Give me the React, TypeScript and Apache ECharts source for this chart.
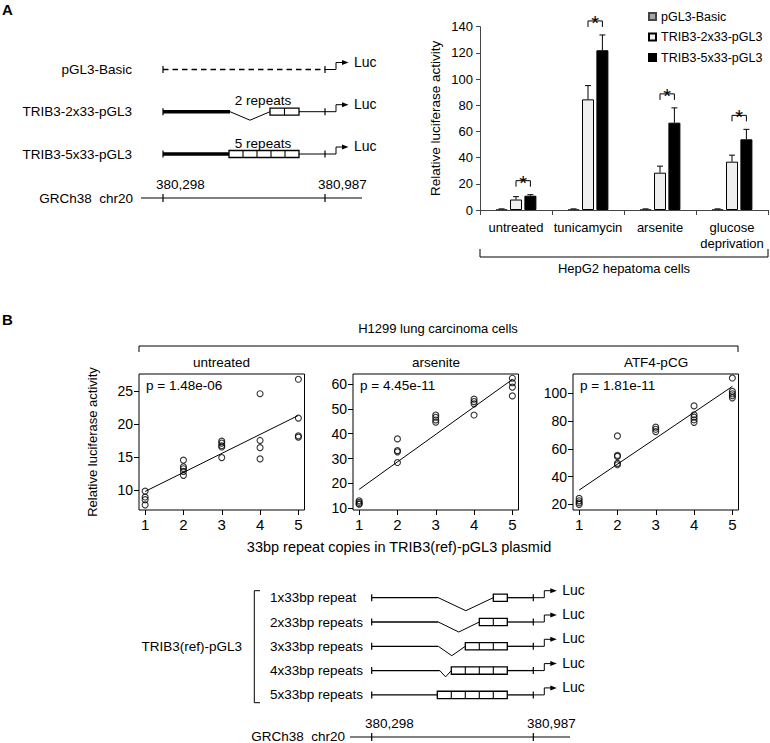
import React, { useEffect, useRef } from "react";
import * as echarts from "echarts";

// ---------- Panel A bar chart data ----------
const barCategories = ["untreated", "tunicamycin", "arsenite", "glucose\ndeprivation"];
const barSeriesNames = ["pGL3-Basic", "TRIB3-2x33-pGL3", "TRIB3-5x33-pGL3"];
const basicValues = [0.7, 0.7, 0.7, 0.7];
const basicErrors = [0.15, 0.15, 0.15, 0.15];
const rep2Values = [8.0, 84.5, 28.5, 36.9];
const rep2Errors = [2.2, 10.5, 5.0, 5.0];
const rep5Values = [10.9, 122, 66.7, 54];
const rep5Errors = [0.8, 11.7, 11.3, 7.6];
const barYMax = 140;
const barYInterval = 20;

// ---------- Panel B scatter data ----------
const copyTicks = [1, 2, 3, 4, 5];
const untreatedPoints = [
  [1, 9.8], [1, 8.9], [1, 8.5], [1, 7.7],
  [2, 14.5], [2, 13.5], [2, 13.2], [2, 12.8], [2, 12.2],
  [3, 17.4], [3, 17.1], [3, 16.7], [3, 16.5], [3, 14.9],
  [4, 24.6], [4, 17.5], [4, 16.4], [4, 14.7],
  [5, 26.8], [5, 20.9], [5, 18.2], [5, 18.0],
];
const arsenitePoints = [
  [1, 13.0], [1, 12.4], [1, 11.8], [1, 11.6],
  [2, 37.9], [2, 33.2], [2, 32.7], [2, 28.4],
  [3, 47.5], [3, 46.6], [3, 45.5], [3, 44.6],
  [4, 53.9], [4, 52.9], [4, 52.0], [4, 47.5],
  [5, 62.3], [5, 60.5], [5, 58.7], [5, 55.2],
];
const atf4Points = [
  [1, 24.3], [1, 22.6], [1, 21.2], [1, 20.0],
  [2, 69.2], [2, 55.3], [2, 54.5], [2, 49.5], [2, 48.5],
  [3, 75.5], [3, 74.0], [3, 72.3],
  [4, 90.8], [4, 84.4], [4, 82.7], [4, 80.8], [4, 79.0],
  [5, 110.8], [5, 101.2], [5, 99.5], [5, 98.1], [5, 96.6],
];
const untreatedFit = [[1, 9.75], [5, 21.3]];
const arseniteFit = [[1, 17.6], [5, 61.8]];
const atf4Fit = [[1, 30.3], [5, 104.8]];
const scatterTitles = ["untreated", "arsenite", "ATF4-pCG"];
const pValues = ["p = 1.48e-06", "p = 4.45e-11", "p = 1.81e-11"];
const untreatedYTicks = [10, 15, 20, 25];
const arseniteYTicks = [10, 20, 30, 40, 50, 60];
const atf4YTicks = [20, 40, 60, 80, 100];
const untreatedRange = [6.93, 27.6];
const arseniteRange = [9.3, 64.0];
const atf4Range = [16.0, 113.7];

// ---------- Diagram texts ----------
const panelAConstructs = ["pGL3-Basic", "TRIB3-2x33-pGL3", "TRIB3-5x33-pGL3"];
const panelBConstructs = ["1x33bp repeat", "2x33bp repeats", "3x33bp repeats", "4x33bp repeats", "5x33bp repeats"];
const panelBRepeatCounts = [1, 2, 3, 4, 5];
const coordLabels = ["380,298", "380,987"];

const FONT = "Liberation Sans, Arial, Helvetica, sans-serif";

function txt(text: string, x: number, y: number, o: any = {}) {
  return {
    type: "text", x, y, silent: true, z: 10,
    style: {
      text, fill: "#000", fontFamily: FONT, fontSize: o.size || 13,
      fontWeight: o.weight || "normal", align: o.align || "left",
      verticalAlign: o.va || "middle",
    },
  };
}
function ln(x1: number, y1: number, x2: number, y2: number, w = 1, dash?: number[], color = "#000") {
  return {
    type: "line", silent: true, z: 10,
    shape: { x1, y1, x2, y2 },
    style: { stroke: color, lineWidth: w, lineDash: dash || null },
  };
}
function pl(points: number[][], w = 1) {
  return { type: "polyline", silent: true, z: 10, shape: { points }, style: { stroke: "#000", lineWidth: w, fill: null } };
}
function repeatBox(x: number, y: number, n: number, unit: number, h = 7) {
  const els: any[] = [
    { type: "rect", silent: true, z: 11, shape: { x, y: y - h / 2, width: n * unit, height: h }, style: { fill: "#fff", stroke: "#000", lineWidth: 1.3 } },
  ];
  for (let i = 1; i < n; i++) els.push({ ...ln(x + i * unit, y - h / 2, x + i * unit, y + h / 2, 1.1), z: 12 });
  return els;
}
function tick(x: number, y: number, h = 7) {
  return ln(x, y - h / 2, x, y + h / 2, 1.2);
}
function promoter(x: number, y: number) {
  return [
    ln(x, y, x + 11, y, 1),
    ln(x + 11, y, x + 11, y - 7, 1),
    ln(x + 11, y - 7, x + 18, y - 7, 1),
    { type: "polygon", silent: true, z: 10, shape: { points: [[x + 17, y - 9.5], [x + 23.5, y - 7], [x + 17, y - 4.5]] }, style: { fill: "#000" } },
    txt("Luc", x + 29, y - 8, { size: 14 }),
  ];
}

function buildGraphics() {
  const g: any[] = [];
  // Panel labels
  g.push(txt("A", 2, 9, { size: 15, weight: "bold" }));
  g.push(txt("B", 2, 319, { size: 15, weight: "bold" }));

  // ---- Panel A diagram ----
  const x0 = 163, x1 = 325, unitA = 14;
  const yRows = [69.5, 111.7, 154];
  panelAConstructs.forEach((name, i) => g.push(txt(name, 132, yRows[i], { align: "right", size: 13.5 })));
  // pGL3-Basic
  g.push(tick(x0, yRows[0]), ln(x0, yRows[0], x1, yRows[0], 1.6, [5.5, 4]), tick(x1, yRows[0]), ...promoter(x1, yRows[0]));
  // 2 repeats
  const boxEnd = 299;
  g.push(tick(x0, yRows[1]), ln(x0, yRows[1], 230, yRows[1], 3.5));
  g.push(pl([[230, yRows[1]], [250, yRows[1] + 8.5], [270, yRows[1]]], 1));
  g.push(...repeatBox(boxEnd - 2 * 14.5, yRows[1], 2, 14.5));
  g.push(ln(boxEnd, yRows[1], x1, yRows[1], 1), tick(x1, yRows[1]), ...promoter(x1, yRows[1]));
  g.push(txt("2 repeats", 263, 100, { align: "center", size: 13.5 }));
  // 5 repeats
  g.push(tick(x0, yRows[2]), ln(x0, yRows[2], boxEnd - 5 * unitA, yRows[2], 3.5));
  g.push(...repeatBox(boxEnd - 5 * unitA, yRows[2], 5, unitA));
  g.push(ln(boxEnd, yRows[2], x1, yRows[2], 1), tick(x1, yRows[2]), ...promoter(x1, yRows[2]));
  g.push(txt("5 repeats", 263, 143, { align: "center", size: 13.5 }));
  // coordinates
  g.push(txt("GRCh38  chr20", 133, 198, { align: "right", size: 13.5 }));
  g.push(ln(141, 198, 362, 198, 1), tick(x0, 198, 8), tick(x1, 198, 8));
  g.push(txt(coordLabels[0], 156, 184, { size: 13.5 }), txt(coordLabels[1], 318, 184, { size: 13.5 }));

  // ---- Panel A bracket under bar chart ----
  g.push(pl([[480, 249], [480, 257], [768, 257], [768, 249]], 1));
  g.push(txt("HepG2 hepatoma cells", 624, 268, { align: "center" }));

  // ---- Panel B header ----
  g.push(txt("H1299 lung carcinoma cells", 438, 328, { align: "center" }));
  g.push(pl([[139, 352], [139, 346], [738, 346], [738, 352]], 1));
  const centers = [221.5, 436, 656];
  const lefts = [146, 360, 580];
  scatterTitles.forEach((t, i) => {
    g.push(txt(t, centers[i], 362, { align: "center", size: 13.5 }));
    g.push(txt(pValues[i], lefts[i], 385, { size: 13.5 }));
  });
  g.push(txt("33bp repeat copies in TRIB3(ref)-pGL3 plasmid", 399, 547, { align: "center", size: 14.5 }));

  // ---- Panel B diagram ----
  const bx0 = 371.7, bx1 = 533.3, bBoxEnd = 507.3, unitB = 14, gapStart = 437.3;
  const dips = [13, 10, 9.4, 6.3, 0];
  panelBConstructs.forEach((name, i) => {
    const y = 597.7 + i * 24.3;
    const n = panelBRepeatCounts[i];
    const bs = bBoxEnd - n * unitB;
    const gs = gapStart + (i === 3 ? 2.5 : 1);
    g.push(txt(name, 270, y, { size: 13.5 }));
    g.push(tick(bx0, y), ln(bx0, y, n < 5 ? gs : bs, y, 1.3));
    if (n < 5) g.push(pl([[gs, y], [(gs + bs) / 2, y + dips[i]], [bs, y]], 1));
    g.push(...repeatBox(bs, y, n, unitB, 7.3));
    g.push(ln(bBoxEnd, y, bx1, y, 1.3), tick(bx1, y), ...promoter(bx1, y));
  });
  g.push(pl([[260, 590.7], [254.3, 590.7], [254.3, 702.7], [260, 702.7]], 1));
  g.push(txt("TRIB3(ref)-pGL3", 242, 646.7, { align: "right", size: 13.5 }));
  g.push(txt("GRCh38  chr20", 345, 736.5, { align: "right", size: 13.5 }));
  g.push(ln(350, 737, 570, 737, 1), tick(bx0, 737, 8), tick(bx1, 737, 8));
  g.push(txt(coordLabels[0], 365, 723.3, { size: 13.5 }), txt(coordLabels[1], 527, 723.3, { size: 13.5 }));
  return g;
}

const BAR_W = 12;
const BAR_STEP = 14.4;

function errorRenderer(offset: number) {
  return (params: any, api: any) => {
    const cat = api.value(0), v = api.value(1), e = api.value(2);
    const base = api.coord([cat, v]);
    const top = api.coord([cat, v + e]);
    const x = base[0] + offset;
    return {
      type: "group",
      children: [
        { type: "line", shape: { x1: x, y1: base[1], x2: x, y2: top[1] }, style: { stroke: "#000", lineWidth: 1 } },
        { type: "line", shape: { x1: x - 3, y1: top[1], x2: x + 3, y2: top[1] }, style: { stroke: "#000", lineWidth: 1 } },
      ],
    };
  };
}

function bracketRenderer(params: any, api: any) {
  const cat = api.value(0), v = api.value(1);
  const top = api.coord([cat, v]);
  const y = top[1] - 14;
  const xa = top[0], xb = top[0] + BAR_STEP;
  return {
    type: "group",
    children: [
      { type: "polyline", shape: { points: [[xa, y + 6], [xa, y], [xb, y], [xb, y + 6]] }, style: { stroke: "#000", lineWidth: 1, fill: null } },
      { type: "text", x: (xa + xb) / 2, y: y + 2, style: { text: "*", fontSize: 20, fontFamily: FONT, fill: "#000", align: "center", verticalAlign: "middle" } },
    ],
  };
}

export default function App() {
  const ref = useRef<HTMLDivElement>(null);
  useEffect(() => {
    if (!ref.current) return;
    const chart = echarts.init(ref.current, undefined, { renderer: "svg" });
    const tickStyle = { color: "#000", fontFamily: FONT };
    const scatterGrid = (left: number) => ({
      left, top: 374, width: 165.5, height: 136, show: true, borderColor: "#000", borderWidth: 1,
      backgroundColor: "transparent", containLabel: false, outerBoundsMode: "none",
    });
    const scatterX = (gi: number) => ({
      type: "value", gridIndex: gi, min: 0.84, max: 5.16,
      axisLine: { show: false }, splitLine: { show: false },
      axisTick: { show: true, length: 5, customValues: copyTicks, lineStyle: { color: "#000" } },
      axisLabel: { customValues: copyTicks, fontSize: 15, margin: 7, ...tickStyle },
    });
    const scatterY = (gi: number, range: number[], ticks: number[], name?: string) => ({
      type: "value", gridIndex: gi, min: range[0], max: range[1],
      axisLine: { show: false }, splitLine: { show: false },
      axisTick: { show: true, length: 5, customValues: ticks, lineStyle: { color: "#000" } },
      axisLabel: { customValues: ticks, fontSize: 14, margin: 6, ...tickStyle },
      name: name || "", nameLocation: "middle", nameGap: 40, nameRotate: 90,
      nameTextStyle: { fontSize: 13, fontFamily: FONT, color: "#000" },
    });
    const pts = [untreatedPoints, arsenitePoints, atf4Points];
    const fits = [untreatedFit, arseniteFit, atf4Fit];
    const scatterSeries: any[] = [];
    pts.forEach((p, i) => {
      scatterSeries.push({
        type: "scatter", xAxisIndex: i + 1, yAxisIndex: i + 1, data: p, symbol: "circle", symbolSize: 6,
        itemStyle: { color: "rgba(0,0,0,0)", borderColor: "#000", borderWidth: 1.1 }, z: 3,
      });
      scatterSeries.push({
        type: "line", xAxisIndex: i + 1, yAxisIndex: i + 1, data: fits[i], symbol: "none",
        lineStyle: { color: "#000", width: 1 }, z: 2,
      });
    });
    const barValues = [basicValues, rep2Values, rep5Values];
    const barErrors = [basicErrors, rep2Errors, rep5Errors];
    const barColors = ["#a6a6a6", "#efefef", "#000"];
    const barBorders = ["#444", "#000", "#000"];
    const barSeries = barSeriesNames.map((name, s) => ({
      name, type: "bar", xAxisIndex: 0, yAxisIndex: 0, data: barValues[s], barWidth: BAR_W, barGap: "20%",
      itemStyle: { color: barColors[s], borderColor: barBorders[s], borderWidth: 1 },
    }));
    const errSeries = barSeriesNames.map((name, s) => ({
      type: "custom", xAxisIndex: 0, yAxisIndex: 0, renderItem: errorRenderer((s - 1) * BAR_STEP),
      data: barCategories.map((c, i) => [i, barValues[s][i], barErrors[s][i]]),
      encode: { x: 0, y: 1 }, clip: false, z: 4, silent: true,
    }));
    const bracketSeries = {
      type: "custom", xAxisIndex: 0, yAxisIndex: 0, renderItem: bracketRenderer,
      data: barCategories.map((c, i) => [i, rep5Values[i] + rep5Errors[i]]),
      encode: { x: 0, y: 1 }, clip: false, z: 5, silent: true,
    };
    chart.setOption({
      animation: false,
      textStyle: { fontFamily: FONT },
      legend: {
        data: barSeriesNames, orient: "vertical", left: 648, top: 9.5, icon: "rect",
        itemWidth: 7, itemHeight: 7, itemGap: 6.5, selectedMode: false, padding: 0,
        textStyle: { fontSize: 12.5, fontFamily: FONT, color: "#000", lineHeight: 14 },
      },
      grid: [
        { left: 480, top: 26.7, width: 288, height: 183.3, containLabel: false, outerBoundsMode: "none" },
        scatterGrid(139), scatterGrid(353), scatterGrid(573),
      ],
      xAxis: [
        {
          type: "category", gridIndex: 0, data: barCategories,
          axisLine: { lineStyle: { color: "#444" } },
          axisTick: { show: true, length: 5, lineStyle: { color: "#444" } },
          axisLabel: { interval: 0, fontSize: 13, lineHeight: 16, margin: 9, ...tickStyle },
        },
        scatterX(1), scatterX(2), scatterX(3),
      ],
      yAxis: [
        {
          type: "value", gridIndex: 0, min: 0, max: barYMax, interval: barYInterval,
          axisLine: { show: true, lineStyle: { color: "#444" } },
          axisTick: { show: true, length: 4, lineStyle: { color: "#444" } },
          splitLine: { show: false },
          axisLabel: { fontSize: 13, margin: 7, ...tickStyle },
          name: "Relative luciferase activity", nameLocation: "middle", nameGap: 38, nameRotate: 90,
          nameTextStyle: { fontSize: 13.5, fontFamily: FONT, color: "#000" },
        },
        scatterY(1, untreatedRange, untreatedYTicks, "Relative luciferase activity"),
        scatterY(2, arseniteRange, arseniteYTicks),
        scatterY(3, atf4Range, atf4YTicks),
      ],
      series: [...barSeries, ...errSeries, bracketSeries, ...scatterSeries],
      graphic: { elements: buildGraphics() },
    });
    return () => chart.dispose();
  }, []);
  return (
    <div
      ref={ref}
      style={{ position: "fixed", left: 0, top: 0, width: 770, height: 743, background: "#fff" }}
    />
  );
}
